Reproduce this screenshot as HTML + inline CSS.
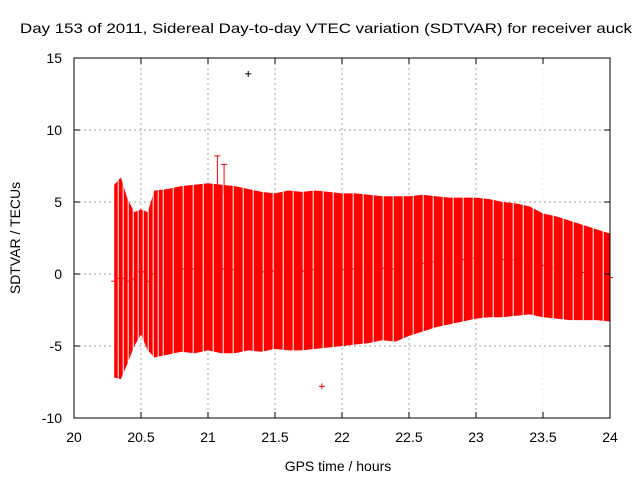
<!DOCTYPE html>
<html><head><meta charset="utf-8"><style>
body{margin:0;background:#fff}
svg text{font-family:"Liberation Sans",sans-serif;font-size:14px;fill:#000}
</style></head><body>
<svg id="c" width="640" height="480">
<text x="20" y="33" textLength="612" lengthAdjust="spacingAndGlyphs">Day 153 of 2011, Sidereal Day-to-day VTEC variation (SDTVAR) for receiver auck</text>
<text x="338" y="471" text-anchor="middle">GPS time / hours</text>
<text transform="translate(20,238) rotate(-90)" text-anchor="middle">SDTVAR / TECUs</text>
<g id="grid"></g><g id="bars"></g><g id="axes"></g>
</svg>
<script>
const times=[20.3,20.35,20.4,20.45,20.5,20.55,20.6,20.7,20.8,20.9,21.0,21.1,21.2,21.3,21.4,21.5,21.6,21.7,21.8,21.9,22.0,22.1,22.2,22.3,22.4,22.5,22.6,22.7,22.8,22.9,23.0,23.1,23.2,23.3,23.4,23.5,23.6,23.7,23.8,23.9,24.0];
const upper=[6.2,6.7,5.2,4.3,4.5,4.3,5.8,5.9,6.1,6.2,6.3,6.2,6.1,5.9,5.7,5.6,5.8,5.7,5.8,5.7,5.6,5.6,5.5,5.4,5.4,5.4,5.5,5.4,5.3,5.3,5.3,5.2,5.0,4.9,4.7,4.2,4.0,3.7,3.4,3.1,2.8];
const lower=[-7.2,-7.3,-6.2,-5.0,-4.2,-5.3,-5.8,-5.6,-5.4,-5.5,-5.3,-5.5,-5.5,-5.3,-5.4,-5.2,-5.3,-5.3,-5.2,-5.1,-5.0,-4.9,-4.8,-4.6,-4.7,-4.3,-4.0,-3.7,-3.5,-3.3,-3.1,-3.0,-3.0,-2.9,-2.8,-3.0,-3.1,-3.2,-3.2,-3.2,-3.3];
const spikeX=[21.07,21.12];
const spikeY=[8.2,7.6];
const outX=[21.3,21.85];
const outY=[13.9,-7.8];
const xTicks=[20,20.5,21,21.5,22,22.5,23,23.5,24];
const xTickLabels=["20","20.5","21","21.5","22","22.5","23","23.5","24"];
const yTicks=[-10,-5,0,5,10,15];
const yTickLabels=["-10","-5","0","5","10","15"];
const X0=74,X1=610,Y0=418,Y1=58;
const sx=v=>X0+(v-20)/4*(X1-X0);
const sy=v=>Y0-(v+10)/25*(Y0-Y1);
const NS="http://www.w3.org/2000/svg";
function mk(t,a,p){const e=document.createElementNS(NS,t);for(const k in a)e.setAttribute(k,a[k]);p.appendChild(e);return e;}
const grid=document.getElementById('grid'),bars=document.getElementById('bars'),axes=document.getElementById('axes');
xTicks.forEach((t,i)=>{const x=sx(t);
 if(i>0&&i<xTicks.length-1){const g=mk('line',{x1:x,x2:x,y1:Y1,y2:Y0,stroke:'#a0a0a0','stroke-dasharray':'2,3'},grid);
 
 }
 const tk=mk('path',{d:`M${x},${Y0}v-6M${x},${Y1}v6`,stroke:'#000'},axes);
 
 
 const l=mk('text',{x:x,y:442,'text-anchor':'middle'},axes);l.textContent=xTickLabels[i];
 
 });
yTicks.forEach((t,i)=>{const y=sy(t);
 if(i>0&&i<yTicks.length-1){const g=mk('line',{x1:X0,x2:X1,y1:y,y2:y,stroke:'#a0a0a0','stroke-dasharray':'2,3'},grid);
 
 }
 const tk=mk('path',{d:`M${X0},${y}h6M${X1},${y}h-6`,stroke:'#000'},axes);
 
 
 const l=mk('text',{x:62,y:y+5,'text-anchor':'end'},axes);l.textContent=yTickLabels[i];
 
 });
let pts=times.map((t,i)=>sx(t)+','+sy(upper[i]));
pts=pts.concat(times.slice().reverse().map((t,k)=>{const i=times.length-1-k;return sx(t)+','+sy(lower[i]);}));
const band=mk('polygon',{points:pts.join(' '),fill:'#ff0000'},bars);


const gaps=mk('g',{},bars);


for(let x=sx(times[0])+4;x<X1-2;x+=(x<160?5:10)){
 mk('line',{x1:x,x2:x,y1:Y1,y2:Y0,stroke:'#fff','stroke-width':1},gaps);
}
times.forEach((t,i)=>{
 const c=mk('line',{x1:sx(t)-3,x2:sx(t)+3,y1:sy((upper[i]+lower[i])/2),y2:sy((upper[i]+lower[i])/2),stroke:'#ff0000'},bars);
 
 
});
spikeX.forEach((t,i)=>{const x=sx(t);
 const s=mk('path',{d:`M${x},${sy(5.5)}V${sy(spikeY[i])}M${x-3},${sy(spikeY[i])}h6`,stroke:'#ff0000'},bars);
 
 });
outX.forEach((t,i)=>{const x=sx(t),y=sy(outY[i]);
 const p=mk('path',{d:`M${x-3},${y}h6M${x},${y-3}v6`,stroke:i===0?'#000':'#ff0000'},bars);
 
 });
const b=mk('rect',{x:X0,y:Y1,width:X1-X0,height:Y0-Y1,fill:'none',stroke:'#000'},axes);


</script>
</body></html>
